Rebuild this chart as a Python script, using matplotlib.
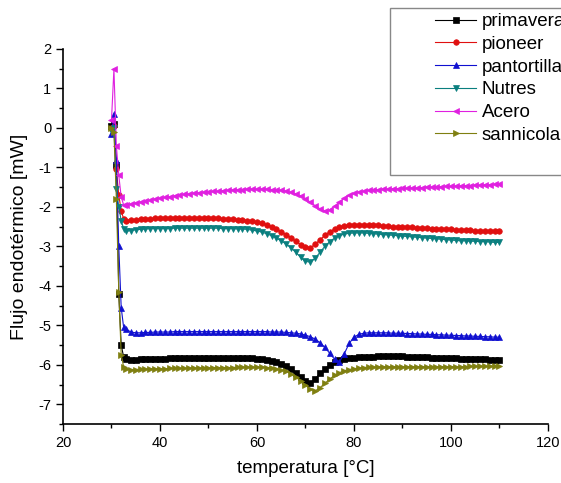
import matplotlib
matplotlib.use('Agg')
import matplotlib.pyplot as plt
from matplotlib.patches import Rectangle
from matplotlib.ticker import MultipleLocator

plt.rcParams['font.family'] = ['Liberation Sans', 'DejaVu Sans']
plt.rcParams['axes.unicode_minus'] = False

# temperature grid (°C): fine steps over the initial spike, then 1 °C steps
temperatura = [30, 30.5, 31, 31.5, 32, 32.5] + list(range(33, 111))

primavera = [0.05, 0.1, -0.95, -4.2, -5.5, -5.8,
             -5.85, -5.87, -5.87, -5.86, -5.86, -5.85, -5.85, -5.85,
             -5.85, -5.84, -5.84, -5.84, -5.84, -5.83, -5.83, -5.83, -5.83, -5.82,
             -5.82, -5.82, -5.82, -5.82, -5.82, -5.82, -5.83, -5.83, -5.84, -5.85,
             -5.86, -5.88, -5.9, -5.93, -5.97, -6.02, -6.1, -6.2, -6.32, -6.42,
             -6.45, -6.36, -6.22, -6.1, -6.0, -5.93, -5.88, -5.85, -5.83, -5.82,
             -5.81, -5.8, -5.8, -5.8, -5.79, -5.79, -5.79, -5.79, -5.79, -5.79,
             -5.8, -5.8, -5.8, -5.81, -5.81, -5.82, -5.82, -5.83, -5.83, -5.84,
             -5.84, -5.85, -5.85, -5.85, -5.86, -5.86, -5.86, -5.87, -5.87, -5.87]

pioneer = [0.0, 0.05, -1.05, -1.7, -2.1, -2.3,
           -2.35, -2.33, -2.32, -2.31, -2.3, -2.3, -2.29, -2.29,
           -2.29, -2.28, -2.28, -2.28, -2.28, -2.28, -2.28, -2.28, -2.29, -2.29,
           -2.29, -2.29, -2.3, -2.3, -2.31, -2.32, -2.33, -2.35, -2.37, -2.39,
           -2.42, -2.45, -2.5, -2.56, -2.63, -2.7, -2.78, -2.87, -2.96, -3.02,
           -3.03, -2.95, -2.83, -2.72, -2.63, -2.56, -2.51, -2.48, -2.46, -2.45,
           -2.45, -2.45, -2.46, -2.46, -2.47, -2.48, -2.49, -2.5, -2.5, -2.51,
           -2.52, -2.52, -2.53, -2.54, -2.54, -2.55, -2.56, -2.56, -2.57, -2.57,
           -2.58, -2.58, -2.59, -2.59, -2.6, -2.6, -2.61, -2.61, -2.62, -2.62]

pantortilla = [-0.15, 0.35, -0.8, -3.0, -4.55, -5.05,
               -5.1, -5.17, -5.19, -5.19, -5.18, -5.18, -5.17, -5.17,
               -5.17, -5.17, -5.16, -5.16, -5.16, -5.16, -5.16, -5.16, -5.16, -5.16,
               -5.16, -5.16, -5.16, -5.16, -5.16, -5.16, -5.16, -5.16, -5.16, -5.16,
               -5.16, -5.16, -5.17, -5.17, -5.17, -5.18, -5.19, -5.2, -5.22, -5.25,
               -5.29, -5.35, -5.44, -5.56, -5.71, -5.86, -5.92, -5.72, -5.46, -5.3,
               -5.23, -5.2, -5.19, -5.19, -5.19, -5.19, -5.19, -5.2, -5.2, -5.2,
               -5.21, -5.21, -5.22, -5.22, -5.23, -5.23, -5.24, -5.24, -5.25, -5.25,
               -5.26, -5.26, -5.27, -5.27, -5.28, -5.28, -5.29, -5.29, -5.3, -5.3]

nutres = [-0.05, 0.0, -1.55, -2.0, -2.35, -2.55,
          -2.62, -2.6, -2.58, -2.57, -2.56, -2.55, -2.55, -2.55,
          -2.55, -2.55, -2.54, -2.54, -2.54, -2.54, -2.54, -2.54, -2.54, -2.54,
          -2.54, -2.54, -2.55, -2.55, -2.55, -2.56, -2.56, -2.57, -2.59, -2.61,
          -2.64, -2.68, -2.73, -2.79, -2.86, -2.94, -3.04, -3.15, -3.28, -3.38,
          -3.4, -3.3, -3.15, -3.0, -2.88, -2.79, -2.73, -2.69, -2.67, -2.66,
          -2.66, -2.66, -2.67, -2.68, -2.69, -2.7, -2.71, -2.72, -2.73, -2.74,
          -2.75, -2.76, -2.77, -2.78, -2.79, -2.8, -2.81, -2.82, -2.83, -2.84,
          -2.85, -2.86, -2.86, -2.87, -2.87, -2.88, -2.88, -2.89, -2.9, -2.9]

acero = [0.2, 1.5, -0.45, -1.2, -1.75, -1.95,
         -1.95, -1.93, -1.9, -1.88, -1.85, -1.83, -1.8, -1.78,
         -1.76, -1.74, -1.72, -1.7, -1.68, -1.67, -1.65, -1.64, -1.63, -1.62,
         -1.61, -1.6, -1.59, -1.58, -1.57, -1.56, -1.56, -1.55, -1.55, -1.55,
         -1.55, -1.55, -1.56, -1.57, -1.58, -1.6, -1.63, -1.67, -1.72, -1.8,
         -1.88, -1.97, -2.05, -2.1, -2.07, -1.98, -1.88, -1.78, -1.71, -1.66,
         -1.62, -1.6, -1.58, -1.57, -1.56, -1.55, -1.55, -1.54, -1.54, -1.53,
         -1.53, -1.52, -1.52, -1.51, -1.5, -1.5, -1.49, -1.49, -1.48, -1.48,
         -1.47, -1.47, -1.46, -1.46, -1.45, -1.45, -1.44, -1.44, -1.43, -1.43]

sannicola = [0.0, -0.1, -1.8, -4.15, -5.75, -6.05,
             -6.1, -6.12, -6.12, -6.11, -6.11, -6.1, -6.1, -6.1,
             -6.1, -6.09, -6.09, -6.09, -6.09, -6.08, -6.08, -6.08, -6.08, -6.08,
             -6.07, -6.07, -6.07, -6.07, -6.07, -6.06, -6.06, -6.06, -6.06, -6.06,
             -6.06, -6.07, -6.08, -6.1, -6.13, -6.17, -6.23, -6.31, -6.41, -6.52,
             -6.62, -6.66, -6.58, -6.47, -6.36, -6.27, -6.2, -6.15, -6.12, -6.1,
             -6.08, -6.07, -6.06, -6.06, -6.05, -6.05, -6.05, -6.05, -6.05, -6.05,
             -6.05, -6.05, -6.05, -6.05, -6.05, -6.05, -6.05, -6.05, -6.05, -6.05,
             -6.05, -6.05, -6.05, -6.04, -6.04, -6.04, -6.04, -6.04, -6.04, -6.04]

series = [
    ('primavera', primavera, 'black', 's'),
    ('pioneer', pioneer, '#e01010', 'o'),
    ('pantortilla', pantortilla, '#1010d0', '^'),
    ('Nutres', nutres, '#0a7f7f', 'v'),
    ('Acero', acero, '#e020e0', '<'),
    ('sannicola', sannicola, '#7f7f10', '>'),
]

fig = plt.figure(figsize=(5.61, 4.83), dpi=100)
ax = fig.add_axes([0.1123, 0.1222, 0.8645, 0.7764])

for name, vals, col, mk in series:
    ax.plot(temperatura, vals, color=col, marker=mk, markersize=4,
            linewidth=0.8, markeredgewidth=0.5, label=name)

ax.set_xlim(20, 120)
ax.set_ylim(-7.5, 2)
ax.xaxis.set_major_locator(MultipleLocator(20))
ax.xaxis.set_minor_locator(MultipleLocator(10))
ax.yaxis.set_major_locator(MultipleLocator(1))
ax.yaxis.set_minor_locator(MultipleLocator(0.5))
ax.tick_params(which='major', direction='out', length=5, width=1, labelsize=10.5)
ax.tick_params(which='minor', direction='out', length=3, width=1)
ax.spines['top'].set_visible(False)
ax.spines['right'].set_visible(False)
ax.spines['left'].set_linewidth(1.2)
ax.spines['bottom'].set_linewidth(1.2)

ax.set_xlabel('temperatura [°C]', fontsize=13.5, labelpad=7)
ax.set_ylabel('Flujo endotérmico [mW]', fontsize=14, labelpad=7)

# legend box runs off the right edge of the figure
fig.patches.append(Rectangle((390 / 561, 1 - 175 / 483), 0.4, 167 / 483,
                             transform=fig.transFigure, facecolor='white',
                             edgecolor='#888888', linewidth=1, zorder=5))
leg = fig.legend(loc='upper left', bbox_to_anchor=(435 / 561, 1 - 13 / 483),
                 frameon=False, fontsize=13.5, handlelength=2.2,
                 handletextpad=0.3, labelspacing=0.3, borderpad=0,
                 borderaxespad=0)
leg.set_zorder(6)

plt.savefig('out.png', dpi=100)
